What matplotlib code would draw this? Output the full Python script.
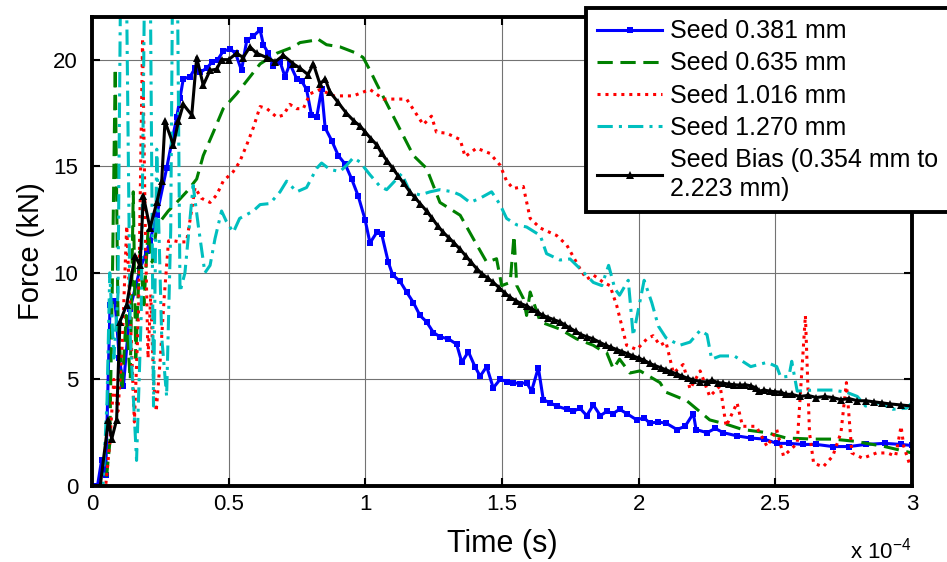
import numpy as np
import matplotlib
matplotlib.use("Agg")
import matplotlib.pyplot as plt

plt.rcParams['font.family'] = ['Liberation Sans', 'DejaVu Sans']

# time in units of 1e-4 s, force in kN
seed_0381 = [
    (0, 0), (0.02, 0), (0.035, 1.2), (0.05, 0.5), (0.066, 8.5), (0.084, 8.7), (0.1, 6), (0.115, 4.7),
    (0.139, 8.3), (0.176, 10.2), (0.2, 11), (0.212, 11.5), (0.237, 12.7), (0.273, 14.9), (0.31, 17.3),
    (0.322, 18.2), (0.334, 19.1), (0.359, 19.2), (0.377, 19.6), (0.395, 19.4), (0.42, 19.6), (0.44, 19.9),
    (0.46, 20.0), (0.48, 20.4), (0.505, 20.5), (0.525, 20.3), (0.547, 19.5), (0.566, 20.9), (0.59, 21.1),
    (0.615, 21.4), (0.627, 20.7), (0.645, 20.3), (0.663, 19.7), (0.688, 19.9), (0.706, 19.2), (0.724, 19.8),
    (0.749, 19.1), (0.767, 19.0), (0.785, 18.6), (0.803, 17.4), (0.822, 17.3), (0.84, 18.6), (0.853, 16.8),
    (0.877, 16.2), (0.901, 15.5), (0.926, 15.1), (0.95, 14.4), (0.974, 13.6), (0.999, 12.5), (1.017, 11.4),
    (1.042, 11.9), (1.06, 11.8), (1.084, 10.5), (1.10, 9.9), (1.127, 9.6), (1.151, 9.1), (1.176, 8.6),
    (1.2, 8.0), (1.224, 7.7), (1.249, 7.2), (1.273, 7.0), (1.304, 6.9), (1.334, 6.65), (1.353, 5.8),
    (1.377, 6.3), (1.401, 5.6), (1.42, 5.15), (1.444, 5.6), (1.468, 4.6), (1.493, 5.0), (1.517, 4.9),
    (1.541, 4.85), (1.566, 4.8), (1.59, 4.85), (1.608, 4.45), (1.633, 5.55), (1.651, 4.05), (1.676, 3.9),
    (1.70, 3.75), (1.737, 3.6), (1.76, 3.5), (1.785, 3.65), (1.81, 3.3), (1.834, 3.8), (1.86, 3.3),
    (1.883, 3.5), (1.907, 3.4), (1.93, 3.6), (1.956, 3.4), (1.993, 3.1), (2.02, 3.2), (2.04, 2.95),
    (2.07, 3.0), (2.10, 2.95), (2.14, 2.65), (2.17, 2.8), (2.2, 3.4), (2.21, 2.65), (2.25, 2.5),
    (2.28, 2.7), (2.31, 2.5), (2.36, 2.35), (2.41, 2.25), (2.46, 2.2), (2.505, 2.0), (2.55, 2.0),
    (2.60, 1.95), (2.65, 1.95), (2.71, 1.85), (2.77, 1.85), (2.83, 1.95), (2.90, 2.0), (2.96, 1.95), (3.0, 1.9),
]

seed_0635 = [
    (0, 0), (0.05, 0), (0.065, 2), (0.075, 10), (0.085, 19.6), (0.095, 8), (0.11, 4.5), (0.125, 8),
    (0.14, 5), (0.151, 13.8), (0.16, 6), (0.175, 11), (0.19, 8.5), (0.205, 12), (0.22, 10.5), (0.237, 12.2),
    (0.279, 12.9), (0.31, 13.3), (0.346, 13.8), (0.383, 14.4), (0.407, 15.5), (0.444, 16.6), (0.48, 17.7),
    (0.529, 18.4), (0.566, 19.0), (0.615, 19.8), (0.676, 20.3), (0.737, 20.6), (0.761, 20.8), (0.81, 20.9),
    (0.822, 21.0), (0.858, 20.7), (0.907, 20.6), (0.968, 20.3), (0.992, 20.1), (1.017, 19.5), (1.042, 18.85),
    (1.10, 17.4), (1.176, 15.5), (1.224, 14.9), (1.273, 13.3), (1.347, 12.7), (1.395, 11.6), (1.444, 10.5),
    (1.48, 10.66), (1.499, 9.4), (1.53, 9.55), (1.544, 11.75), (1.554, 9.4), (1.578, 8.8), (1.59, 8.0),
    (1.603, 9.1), (1.64, 7.7), (1.712, 7.36), (1.773, 6.9), (1.834, 6.6), (1.859, 6.4), (1.883, 6.26),
    (1.907, 5.5), (1.93, 5.95), (1.968, 5.3), (2.005, 5.4), (2.078, 4.85), (2.10, 4.4), (2.176, 4.0),
    (2.26, 3.1), (2.32, 2.9), (2.38, 2.65), (2.47, 2.5), (2.54, 2.25), (2.64, 2.2), (2.71, 2.2),
    (2.79, 2.1), (2.90, 1.85), (3.0, 1.55),
]

seed_1016 = [
    (0, 0), (0.05, 0), (0.065, 2), (0.08, 5), (0.095, 3.5), (0.11, 6.5), (0.127, 12.2), (0.14, 8),
    (0.155, 3), (0.17, 8), (0.185, 21), (0.195, 12), (0.205, 6), (0.215, 9), (0.225, 5), (0.235, 3.5),
    (0.25, 6), (0.265, 9), (0.28, 11.5), (0.3, 11.5), (0.322, 11.45), (0.346, 11.45), (0.359, 12.5),
    (0.377, 14.0), (0.40, 13.5), (0.432, 13.3), (0.456, 13.65), (0.48, 14.3), (0.517, 14.75), (0.54, 15.2),
    (0.566, 16.0), (0.59, 16.8), (0.615, 17.8), (0.64, 17.7), (0.676, 17.3), (0.70, 17.4), (0.724, 17.9),
    (0.749, 17.7), (0.773, 17.7), (0.798, 18.4), (0.834, 18.6), (0.883, 18.3), (0.956, 18.3), (1.017, 18.6),
    (1.066, 18.15), (1.10, 18.15), (1.151, 18.15), (1.212, 16.95), (1.242, 17.35), (1.26, 16.6),
    (1.297, 16.55), (1.347, 16.25), (1.365, 15.45), (1.407, 15.85), (1.456, 15.6), (1.493, 15.05),
    (1.517, 14.3), (1.541, 13.95), (1.578, 14.05), (1.603, 12.55), (1.64, 12.1), (1.70, 11.75),
    (1.737, 11.3), (1.785, 10.2), (1.81, 9.7), (1.834, 9.9), (1.871, 9.55), (1.895, 9.4), (1.92, 8.45),
    (1.956, 6.6), (1.993, 6.4), (2.03, 6.9), (2.053, 7.05), (2.078, 6.6), (2.10, 6.75), (2.127, 5.3),
    (2.163, 5.7), (2.188, 4.55), (2.225, 5.4), (2.26, 4.2), (2.298, 4.7), (2.32, 2.8), (2.36, 3.9),
    (2.38, 2.8), (2.43, 2.8), (2.47, 1.85), (2.505, 2.65), (2.53, 1.4), (2.58, 2.0), (2.61, 8.0),
    (2.625, 2.5), (2.64, 1.07), (2.675, 0.9), (2.71, 1.4), (2.74, 2.5), (2.76, 4.85), (2.78, 1.55),
    (2.82, 1.3), (2.87, 1.55), (2.91, 1.55), (2.94, 1.4), (2.96, 2.8), (2.97, 1.85), (2.99, 1.07), (3.0, 1.2),
]

seed_1270 = [
    (0, 0), (0.04, 0), (0.055, 4), (0.065, 10), (0.08, 6), (0.095, 9), (0.106, 26), (0.124, 26),
    (0.14, 7), (0.163, 1.2), (0.18, 8), (0.194, 26), (0.212, 26), (0.225, 3.75), (0.237, 15.8), (0.255, 7),
    (0.273, 4.2), (0.288, 12), (0.296, 26), (0.311, 26), (0.322, 9.1), (0.34, 10.0), (0.37, 14.1),
    (0.389, 12.2), (0.413, 10.0), (0.432, 10.35), (0.45, 11.6), (0.474, 12.9), (0.492, 12.4), (0.517, 11.9),
    (0.54, 12.55), (0.59, 12.9), (0.615, 13.2), (0.651, 13.25), (0.688, 13.8), (0.712, 14.3), (0.749, 13.8),
    (0.785, 14.0), (0.822, 14.9), (0.84, 15.15), (0.87, 14.85), (0.907, 14.75), (0.932, 15.05),
    (0.956, 15.4), (0.98, 15.2), (1.017, 14.6), (1.054, 14.05), (1.078, 13.9), (1.10, 14.2), (1.133, 14.65),
    (1.163, 13.8), (1.20, 13.65), (1.237, 13.8), (1.273, 13.9), (1.32, 13.8), (1.347, 13.65), (1.383, 13.3),
    (1.42, 13.5), (1.462, 13.8), (1.493, 13.2), (1.517, 12.55), (1.554, 12.25), (1.59, 12.15), (1.64, 11.75),
    (1.663, 10.9), (1.712, 10.6), (1.749, 10.65), (1.785, 10.2), (1.834, 9.55), (1.865, 9.4), (1.89, 10.35),
    (1.913, 9.25), (1.93, 8.95), (1.962, 9.65), (1.98, 7.05), (2.02, 9.65), (2.048, 8.6), (2.072, 7.5),
    (2.10, 6.95), (2.15, 6.6), (2.188, 6.75), (2.225, 7.3), (2.25, 7.1), (2.267, 5.95), (2.298, 6.1),
    (2.35, 6.1), (2.41, 5.6), (2.47, 5.8), (2.505, 5.6), (2.52, 5.1), (2.55, 5.15), (2.56, 5.85),
    (2.58, 4.45), (2.64, 4.5), (2.71, 4.5), (2.76, 4.4), (2.80, 4.2), (2.83, 3.75), (2.88, 3.9),
    (2.93, 3.6), (2.98, 3.65), (3.0, 3.9),
]

seed_bias = [
    (0, 0), (0.03, 0), (0.06, 3.1), (0.072, 2.2), (0.09, 3.1), (0.102, 7.7), (0.127, 8.5), (0.157, 10.8),
    (0.176, 10.35), (0.188, 13.6), (0.212, 12.1), (0.237, 13.3), (0.255, 14.3), (0.267, 17.1), (0.298, 16.0),
    (0.316, 17.1), (0.334, 17.9), (0.365, 17.4), (0.383, 20.1), (0.407, 18.8), (0.432, 19.5), (0.456, 19.55),
    (0.474, 20.0), (0.5, 20.0), (0.529, 20.3), (0.553, 20.1), (0.578, 20.6), (0.602, 20.3), (0.639, 20.1),
    (0.67, 19.9), (0.70, 20.2), (0.737, 19.8), (0.761, 19.6), (0.79, 19.3), (0.81, 19.8), (0.834, 18.85),
    (0.853, 19.1), (0.87, 18.5), (0.9, 18.0), (0.93, 17.5), (0.96, 17.1), (0.98, 16.9), (1.0, 16.6),
    (1.02, 16.3), (1.042, 16.0), (1.06, 15.6), (1.08, 15.25), (1.10, 14.9), (1.12, 14.55), (1.14, 14.2),
    (1.163, 13.8), (1.18, 13.55), (1.20, 13.25), (1.224, 12.9), (1.245, 12.55), (1.265, 12.2), (1.285, 11.9),
    (1.305, 11.65), (1.325, 11.4), (1.347, 11.1), (1.367, 10.8), (1.387, 10.5), (1.407, 10.2), (1.427, 9.95),
    (1.448, 9.75), (1.468, 9.55), (1.49, 9.3), (1.51, 9.05), (1.53, 8.85), (1.55, 8.7), (1.57, 8.55),
    (1.59, 8.45), (1.61, 8.3), (1.63, 8.15), (1.65, 8.0), (1.67, 7.9), (1.69, 7.8), (1.712, 7.7),
    (1.73, 7.55), (1.75, 7.4), (1.77, 7.25), (1.79, 7.1), (1.81, 7.0), (1.834, 6.9), (1.859, 6.73),
    (1.88, 6.6), (1.9, 6.5), (1.92, 6.4), (1.94, 6.3), (1.96, 6.2), (1.98, 6.1), (2.0, 6.0), (2.02, 5.9),
    (2.04, 5.75), (2.06, 5.65), (2.08, 5.55), (2.10, 5.45), (2.12, 5.35), (2.14, 5.25), (2.16, 5.15),
    (2.18, 5.05), (2.2, 4.98), (2.225, 4.9), (2.25, 4.88), (2.27, 4.95), (2.29, 4.85), (2.31, 4.82),
    (2.33, 4.78), (2.35, 4.75), (2.37, 4.73), (2.39, 4.75), (2.41, 4.7), (2.43, 4.6), (2.44, 4.45),
    (2.46, 4.5), (2.48, 4.45), (2.50, 4.42), (2.52, 4.4), (2.54, 4.3), (2.56, 4.3), (2.59, 4.2),
    (2.62, 4.25), (2.65, 4.15), (2.68, 4.2), (2.71, 4.15), (2.74, 4.05), (2.77, 4.1), (2.80, 4.0),
    (2.83, 4.0), (2.86, 3.95), (2.89, 3.9), (2.92, 3.85), (2.96, 3.8), (3.0, 3.75),
]

labels = ['Seed 0.381 mm', 'Seed 0.635 mm', 'Seed 1.016 mm', 'Seed 1.270 mm',
          'Seed Bias (0.354 mm to\n2.223 mm)']
xtick_vals = [0, 0.5, 1, 1.5, 2, 2.5, 3]
xtick_labels = ['0', '0.5', '1', '1.5', '2', '2.5', '3']
ytick_vals = [0, 5, 10, 15, 20]

fig = plt.figure(figsize=(9.47, 5.62), dpi=100)
ax = fig.add_axes([92 / 947, 1 - 486 / 562, 820 / 947, 469 / 562])

def xy(series):
    arr = np.array(series, dtype=float)
    return arr[:, 0] * 1e-4, arr[:, 1]

styles = [
    dict(color=(0, 0, 1), lw=2.2, ls='-', marker='s', ms=4.5, mew=0),
    dict(color=(0, 0.5, 0), lw=2.2, ls=(0, (5, 2.5))),
    dict(color=(1, 0, 0), lw=2.2, ls=(0, (1, 1.6))),
    dict(color=(0, 0.75, 0.75), lw=2.2, ls=(0, (5, 2, 1, 2))),
    dict(color='black', lw=2.2, ls='-', marker='^', ms=6, mew=0),
]
for series, lab, st in zip([seed_0381, seed_0635, seed_1016, seed_1270, seed_bias], labels, styles):
    t, f = xy(series)
    ax.plot(t, f, label=lab, **st)

ax.set_xlim(0, 3e-4)
ax.set_ylim(0, 22)
ax.set_xticks([v * 1e-4 for v in xtick_vals])
ax.set_xticklabels(xtick_labels)
ax.set_yticks(ytick_vals)
ax.grid(True, color='0.45', lw=0.8)
ax.tick_params(direction='in', length=6, width=1.5, labelsize=16, top=True, right=True)
ax.tick_params(axis='y', pad=10)
ax.tick_params(axis='x', pad=6)
for sp in ax.spines.values():
    sp.set_linewidth(2.8)

ax.set_xlabel('Time (s)', fontsize=22, labelpad=10)
ax.set_ylabel('Force (kN)', fontsize=21, labelpad=6)
fig.text(850 / 947, 1 - 558 / 562, r'x 10$^{\mathregular{-4}}$', fontsize=16, va='baseline')

leg = ax.legend(loc='upper left', bbox_to_anchor=(586 / 947, 1 - 8 / 562), bbox_transform=fig.transFigure,
                fontsize=18, frameon=True, fancybox=False, framealpha=1, edgecolor='black',
                handlelength=2.6, handletextpad=0.3, borderpad=0.45, labelspacing=0.33, borderaxespad=0)
leg.get_frame().set_linewidth(2.8)
leg.set_zorder(10)
for txt in leg.get_texts():
    txt.set_linespacing(1.25)

fig.savefig('out.png', dpi=100)
